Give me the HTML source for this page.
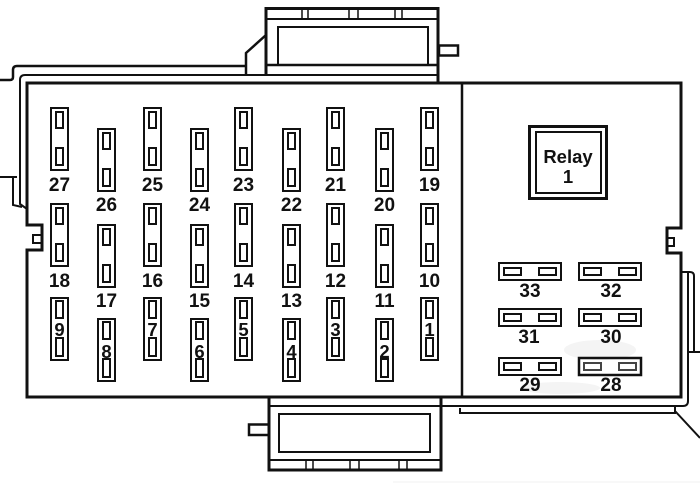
<!DOCTYPE html>
<html><head><meta charset="utf-8"><style>
html,body{margin:0;padding:0;background:#fff;}
svg{display:block;}
text{font-family:"Liberation Sans",Arial,sans-serif;font-weight:bold;fill:#111;text-anchor:middle;}
</style></head><body>
<svg width="700" height="483" viewBox="0 0 700 483" xmlns="http://www.w3.org/2000/svg">
<defs>
<g id="f" fill="none" stroke="#111" stroke-width="2"><rect x="1" y="1" width="17" height="62"/><rect x="6" y="5" width="7" height="16"/><rect x="6" y="41" width="7" height="17"/></g>
<g id="g" fill="none" stroke="#111" stroke-width="2"><rect x="1" y="1" width="17" height="62"/><rect x="6" y="4" width="7" height="17"/><rect x="6" y="41" width="7" height="18"/></g>
<g id="h" fill="none" stroke="#111" stroke-width="2"><rect x="1" y="1" width="62" height="17"/><rect x="6" y="6" width="17" height="7"/><rect x="41" y="6" width="17" height="7"/></g>
</defs>
<rect width="700" height="483" fill="#fff"/>
<!-- faint smudges -->
<g fill="#f4f4f4">
<ellipse cx="600" cy="350" rx="36" ry="10"/>
<ellipse cx="560" cy="388" rx="40" ry="6"/>
</g>
<line x1="393" y1="482" x2="700" y2="482" stroke="#f0f0f0" stroke-width="1"/>
<g fill="none" stroke="#111" stroke-linejoin="miter">
<!-- outer frame top/left -->
<path d="M0,80 H10 Q13,80 13,77 V70 Q13,66 17,66 H246" stroke-width="2.5"/>
<path d="M246,74 V53 L266,35" stroke-width="2.5"/>
<path d="M27,209 L20,204 V80 Q20,75 25,75 H438" stroke-width="2"/>
<path d="M0,177 H17 M13,177 V205 L22,207" stroke-width="2"/>
<!-- main box -->
<path d="M27,83 H681 V228 H667 V253 H681 V397 H27 V250 H42 V225 H27 Z" stroke-width="3"/>
<rect x="33" y="235" width="9" height="8" stroke-width="2"/>
<rect x="667" y="238" width="7" height="8" stroke-width="2"/>
<line x1="462" y1="83" x2="462" y2="397" stroke-width="2.5"/>
<!-- top connector -->
<path d="M266,74 V8.5 H438 V83" stroke-width="3"/>
<line x1="266" y1="19" x2="438" y2="19" stroke-width="2"/>
<path d="M302,8 V19 M308,8 V19 M349,8 V19 M358,8 V19 M395,8 V19 M402,8 V19" stroke-width="1.5"/>
<path d="M278,65 V27 H428 V65" stroke-width="2"/>
<line x1="266" y1="65" x2="438" y2="65" stroke-width="2.5"/>
<rect x="439" y="45.5" width="19" height="10" stroke-width="2.5"/>
<!-- bottom connector -->
<path d="M269,397 V470 H441 V397" stroke-width="3"/>
<path d="M269,406 H683 Q688,406 688,401 V272" stroke-width="2"/>
<path d="M681,272 H690 Q694,272 694,276 V352 M688,352 H700" stroke-width="2"/>
<rect x="279" y="414" width="151" height="38" stroke-width="2"/>
<line x1="269" y1="460" x2="441" y2="460" stroke-width="2"/>
<path d="M306,460 V470 M313,460 V470 M350,460 V470 M359,460 V470 M399,460 V470 M407,460 V470" stroke-width="1.5"/>
<rect x="249" y="424.5" width="20" height="10.5" stroke-width="2.5"/>
<path d="M460,408 V413 H675 V406 M675,411 L700,438" stroke-width="2"/>
<!-- relay -->
<rect x="529.5" y="126.5" width="77" height="72" stroke-width="3"/>
<rect x="536" y="132" width="65" height="61" stroke-width="2"/>
</g>
<!-- vertical fuses -->
<use href="#f" x="50" y="107"/><use href="#f" x="97" y="128"/><use href="#f" x="143" y="107"/><use href="#f" x="190" y="128"/><use href="#f" x="234" y="107"/><use href="#f" x="282" y="128"/><use href="#f" x="326" y="107"/><use href="#f" x="375" y="128"/><use href="#f" x="420" y="107"/>
<use href="#f" x="50" y="203"/><use href="#f" x="97" y="224"/><use href="#f" x="143" y="203"/><use href="#f" x="190" y="224"/><use href="#f" x="234" y="203"/><use href="#f" x="282" y="224"/><use href="#f" x="326" y="203"/><use href="#f" x="375" y="224"/><use href="#f" x="420" y="203"/>
<use href="#g" x="50" y="297"/><use href="#g" x="97" y="318"/><use href="#g" x="143" y="297"/><use href="#g" x="190" y="318"/><use href="#g" x="234" y="297"/><use href="#g" x="282" y="318"/><use href="#g" x="326" y="297"/><use href="#g" x="375" y="318"/><use href="#g" x="420" y="297"/>
<g font-size="19">
<text x="59.5" y="191">27</text><text x="106.5" y="211">26</text><text x="152.5" y="191">25</text><text x="199.5" y="211">24</text><text x="243.5" y="191">23</text><text x="291.5" y="211">22</text><text x="335.5" y="191">21</text><text x="384.5" y="211">20</text><text x="429.5" y="191">19</text>
<text x="59.5" y="287">18</text><text x="106.5" y="307">17</text><text x="152.5" y="287">16</text><text x="199.5" y="307">15</text><text x="243.5" y="287">14</text><text x="291.5" y="307">13</text><text x="335.5" y="287">12</text><text x="384.5" y="307">11</text><text x="429.5" y="287">10</text>
</g>
<g font-size="18.5">
<text x="59.5" y="336">9</text><text x="106.5" y="358">8</text><text x="152.5" y="336">7</text><text x="199.5" y="358">6</text><text x="243.5" y="336">5</text><text x="291.5" y="358">4</text><text x="335.5" y="336">3</text><text x="384.5" y="358">2</text><text x="429.5" y="336">1</text>
</g>
<!-- small fuses -->
<use href="#h" x="498" y="262"/><use href="#h" x="578" y="262"/>
<use href="#h" x="498" y="308"/><use href="#h" x="578" y="308"/>
<use href="#h" x="498" y="357"/>
<g fill="none" stroke="#111" stroke-width="2.5"><rect x="579" y="358" width="62" height="17"/></g>
<g fill="none" stroke="#444" stroke-width="2"><rect x="584" y="363" width="17" height="7"/><rect x="619" y="363" width="17" height="7"/></g>
<g font-size="19">
<text x="530" y="297">33</text><text x="611" y="297">32</text>
<text x="529" y="343">31</text><text x="611" y="343">30</text>
<text x="530" y="391">29</text><text x="611" y="391">28</text>
<text x="568" y="163" font-size="18.5">Relay</text>
<text x="568" y="183" font-size="18.5">1</text>
</g>
</svg>
</body></html>
